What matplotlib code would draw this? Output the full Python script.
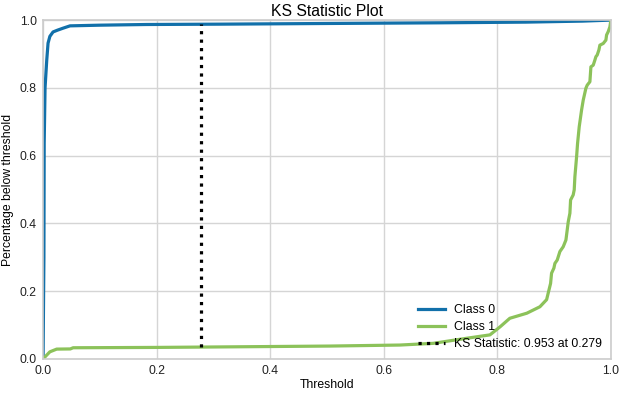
import matplotlib
matplotlib.use("Agg")
import matplotlib.pyplot as plt

plt.rcParams['font.family'] = ['Liberation Sans', 'DejaVu Sans']

# Class 0 cumulative curve
x0 = [0.0, 0.0015, 0.002, 0.0035, 0.0065, 0.0088, 0.012, 0.0176, 0.025, 0.035, 0.0475,
      0.1, 0.182, 0.312, 0.5, 0.7, 0.85, 0.95, 1.0]
y0 = [0.0, 0.3, 0.637, 0.80, 0.882, 0.932, 0.952, 0.965, 0.970, 0.976, 0.983,
      0.985, 0.987, 0.988, 0.990, 0.992, 0.994, 0.997, 1.0]

# Class 1 cumulative curve
x1 = [0.0, 0.012, 0.024, 0.048, 0.053, 0.2, 0.279, 0.505, 0.6285, 0.687, 0.746,
      0.787, 0.805, 0.822, 0.852, 0.875, 0.8868, 0.8897, 0.8938, 0.8955, 0.8996,
      0.9014, 0.9055, 0.9102, 0.916, 0.9208, 0.9231, 0.9249, 0.9278, 0.929,
      0.9336, 0.9354, 0.9366, 0.9396, 0.9413, 0.9442, 0.9484, 0.9513, 0.956,
      0.9583, 0.963, 0.9648, 0.9689, 0.9718, 0.9736, 0.9759, 0.9789, 0.9806,
      0.9865, 0.9912, 0.9924, 0.9953, 0.9982, 1.0]
y1 = [0.0, 0.021, 0.029, 0.0295, 0.033, 0.034, 0.035, 0.038, 0.041, 0.046, 0.061,
      0.071, 0.095, 0.120, 0.135, 0.154, 0.175, 0.195, 0.223, 0.253, 0.268,
      0.282, 0.292, 0.317, 0.331, 0.351, 0.381, 0.405, 0.430, 0.469,
      0.484, 0.499, 0.538, 0.597, 0.636, 0.685, 0.735, 0.764, 0.799,
      0.808, 0.818, 0.862, 0.867, 0.882, 0.892, 0.897, 0.912, 0.926,
      0.931, 0.941, 0.956, 0.966, 0.980, 1.0]

ks_stat = 0.953
ks_thresh = 0.279
ks_low = 0.035
ks_high = 0.988

labels = ["Class 0", "Class 1", "KS Statistic: {:.3f} at {:.3f}".format(ks_stat, ks_thresh)]
xticks = [0.0, 0.2, 0.4, 0.6, 0.8, 1.0]
yticks = [0.0, 0.2, 0.4, 0.6, 0.8, 1.0]

fig = plt.figure(figsize=(6.24, 3.94), dpi=100)
ax = fig.add_axes([0.069, 0.089, 0.910, 0.860])

ax.plot(x0, y0, color="#1170aa", lw=2.3, label=labels[0])
ax.plot(x1, y1, color="#8cc25a", lw=2.3, label=labels[1])
ax.axvline(ks_thresh, ymin=ks_low, ymax=ks_high, color="black", lw=2.3,
           linestyle=":", label=labels[2])

ax.set_xlim(0, 1)
ax.set_ylim(0, 1)
ax.set_xticks(xticks)
ax.set_yticks(yticks)
ax.tick_params(length=0, labelsize=8.8, colors="#222222", pad=4.5)
ax.grid(True, color="#d5d5d5", lw=1)
ax.set_axisbelow(True)
for s in ax.spines.values():
    s.set_color("#cccccc")
    s.set_linewidth(1.2)

ax.set_title("KS Statistic Plot", fontsize=11.3, pad=3)
ax.set_xlabel("Threshold", fontsize=8.8, labelpad=1)
ax.set_ylabel("Percentage below threshold", fontsize=8.8, labelpad=4)
ax.legend(loc="lower right", frameon=False, fontsize=8.8, handlelength=2.2,
          handletextpad=0.8, borderaxespad=0.3, labelspacing=0.42)

fig.savefig("out.png", dpi=100)
